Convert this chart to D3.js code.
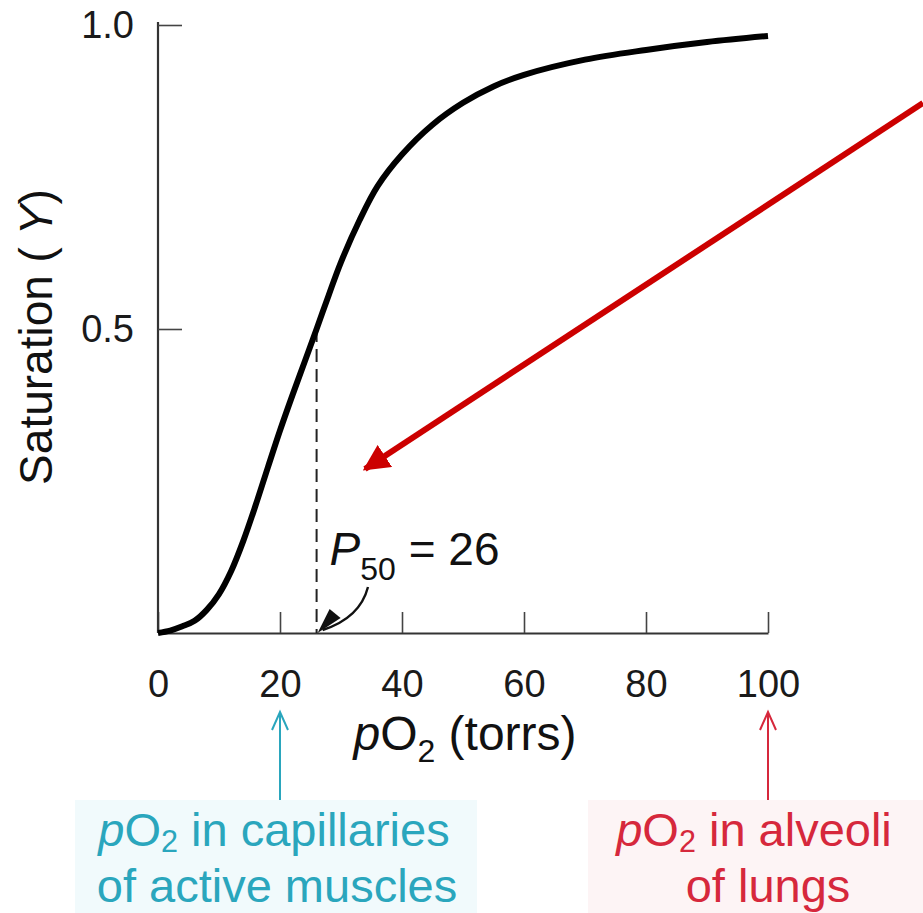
<!DOCTYPE html>
<html><head><meta charset="utf-8">
<script src="https://cdn.jsdelivr.net/npm/d3@7"></script>
<style>
html,body{margin:0;padding:0;background:#fff;}
svg{display:block;font-family:"Liberation Sans",Arial,Helvetica,sans-serif;}
</style></head>
<body>
<svg id="chart" width="923" height="913"></svg>
<script>
// Data
const pO2 =        [0, 2, 4, 6, 8, 10, 12, 14, 16, 18, 20, 22, 24, 26, 28, 30, 33, 36, 40, 45, 50, 55, 60, 70, 80, 90, 100];
const saturation = [0, 0.004, 0.011, 0.02, 0.038, 0.064, 0.102, 0.152, 0.21, 0.272, 0.333, 0.39, 0.445, 0.5, 0.556, 0.61, 0.678, 0.735, 0.787, 0.836, 0.872, 0.899, 0.918, 0.943, 0.959, 0.972, 0.982];
const xTicks = [0, 20, 40, 60, 80, 100];
const yTicks = [0.5, 1.0];
const yTickLabels = ["0.5", "1.0"];
const p50 = 26;
const muscleP = 20;
const lungP = 100;

const svg = d3.select("#chart");
const x = d3.scaleLinear().domain([0, 100]).range([158, 768]);
const y = d3.scaleLinear().domain([0, 1]).range([633, 25]);

// faint label backgrounds
svg.append("rect").attr("x", 75).attr("y", 800).attr("width", 402).attr("height", 113).attr("fill", "#f1fafc");
svg.append("rect").attr("x", 588).attr("y", 800).attr("width", 335).attr("height", 113).attr("fill", "#fdf4f5");

// Axes
const xAxis = d3.axisBottom(x).tickValues(xTicks).tickFormat(d3.format("d"))
  .tickSizeInner(-21).tickSizeOuter(0).tickPadding(37);
const gx = svg.append("g").attr("transform", `translate(0,${y(0)})`).call(xAxis);
gx.select(".domain").attr("stroke", "#333").attr("stroke-width", 2.2);
gx.selectAll(".tick line").attr("stroke", "#444").attr("stroke-width", 1.6);
gx.selectAll(".tick text").attr("font-size", 38).attr("fill", "#1a1a1a")
  .attr("font-family", "Liberation Sans, Arial, sans-serif");

const yAxis = d3.axisLeft(y).tickValues(yTicks).tickFormat((d, i) => yTickLabels[i])
  .tickSizeInner(-24).tickSizeOuter(0).tickPadding(24);
const gy = svg.append("g").attr("transform", `translate(${x(0)},0)`).call(yAxis);
gy.select(".domain").attr("stroke", "#333").attr("stroke-width", 2.2)
  .attr("d", `M0,${y(0)}V${y(1) - 3}`);
gy.selectAll(".tick line").attr("stroke", "#444").attr("stroke-width", 1.6);
gy.selectAll(".tick text").attr("font-size", 38).attr("fill", "#1a1a1a")
  .attr("font-family", "Liberation Sans, Arial, sans-serif");

// Axis titles
const xt = svg.append("text").attr("x", (x(0) + x(100)) / 2 + 2).attr("y", 750)
  .attr("text-anchor", "middle").attr("font-size", 48).attr("fill", "#111");
xt.append("tspan").attr("font-style", "italic").text("p");
xt.append("tspan").text("O");
xt.append("tspan").attr("font-size", 32).attr("dy", 12).text("2");
xt.append("tspan").attr("dy", -12).text(" (torrs)");

const yt = svg.append("text").attr("transform", `translate(52,${(y(0) + y(1)) / 2 + 8}) rotate(-90)`)
  .attr("text-anchor", "middle").attr("font-size", 46).attr("fill", "#111");
yt.append("tspan").text("Saturation (");
yt.append("tspan").attr("font-style", "italic").text(" Y");
yt.append("tspan").text(")");

// P50 dashed line
svg.append("line").attr("x1", x(p50)).attr("x2", x(p50)).attr("y1", y(0.5)).attr("y2", y(0))
  .attr("stroke", "#222").attr("stroke-width", 2).attr("stroke-dasharray", "13,7");

// Curve
const line = d3.line().x((d, i) => x(pO2[i])).y(d => y(d)).curve(d3.curveCatmullRom.alpha(0.5));
svg.append("path").datum(saturation).attr("d", line)
  .attr("fill", "none").attr("stroke", "#000").attr("stroke-width", 6);

// P50 label
const pl = svg.append("text").attr("x", x(p50) + 13).attr("y", 565).attr("font-size", 46).attr("fill", "#111");
pl.append("tspan").attr("font-style", "italic").text("P");
pl.append("tspan").attr("font-size", 32).attr("dy", 15).text("50");
pl.append("tspan").attr("dy", -15).text(" = " + p50);

// markers
const defs = svg.append("defs");
defs.append("marker").attr("id", "redhead").attr("viewBox", "0 0 10 10").attr("refX", 9).attr("refY", 5)
  .attr("markerWidth", 4.4).attr("markerHeight", 4.4)
  .attr("orient", "auto").append("path").attr("d", "M0,0L10,5L0,10z").attr("fill", "#cc0000");

// small curved arrow to P50
svg.append("path").attr("d", `M368,587 Q360,618 ${x(p50) + 6},630`)
  .attr("fill", "none").attr("stroke", "#111").attr("stroke-width", 2.4);
svg.append("path").attr("d", `M${x(p50) + 24},618 L${x(p50) + 1},633 L${x(p50) + 13},609 Z`).attr("fill", "#111");

// big red arrow
svg.append("line").attr("x1", 923).attr("y1", 103).attr("x2", 365).attr("y2", 469)
  .attr("stroke", "#cc0000").attr("stroke-width", 6).attr("marker-end", "url(#redhead)");

// thin indicator arrows
function upArrow(px, color) {
  svg.append("line").attr("x1", px).attr("x2", px).attr("y1", 800).attr("y2", 712)
    .attr("stroke", color).attr("stroke-width", 2);
  svg.append("path").attr("d", `M${px - 8},730 L${px},712 L${px + 8},730`)
    .attr("fill", "none").attr("stroke", color).attr("stroke-width", 2);
}
upArrow(x(muscleP), "#2aa6bd");
upArrow(x(lungP), "#d6283c");

// bottom labels
function label(cx1, cx2, y0, color, fs, first, rest) {
  const t = svg.append("text").attr("x", cx1).attr("y", y0).attr("text-anchor", "middle")
    .attr("font-size", fs).attr("fill", color);
  t.append("tspan").attr("font-style", "italic").text("p");
  t.append("tspan").text("O");
  t.append("tspan").attr("font-size", fs * 0.65).attr("dy", 6).text("2");
  t.append("tspan").attr("dy", -6).text(first);
  svg.append("text").attr("x", cx2).attr("y", y0 + 56).attr("text-anchor", "middle")
    .attr("font-size", fs).attr("fill", color).text(rest);
}
label(274, 277, 846, "#2aa6bd", 47, " in capillaries", "of active muscles");
label(754, 768, 846, "#d6283c", 47, " in alveoli", "of lungs");
</script>
</body></html>
